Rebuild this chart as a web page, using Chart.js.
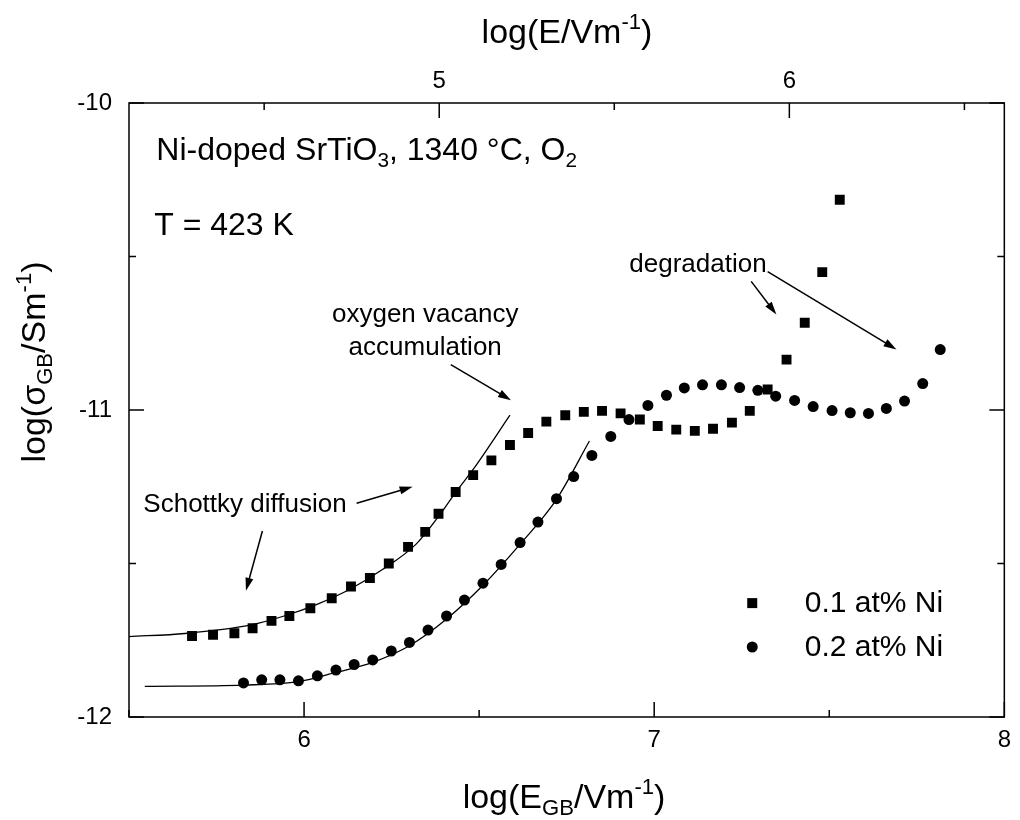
<!DOCTYPE html>
<html>
<head>
<meta charset="utf-8">
<script src="https://cdn.jsdelivr.net/npm/chart.js@4.4.1/dist/chart.umd.min.js"></script>
<style>
html, body { margin: 0; padding: 0; background: #fff; }
</style>
</head>
<body>
<canvas id="plot" width="1020" height="820"></canvas>
<script>
// 0.1 at% Ni (squares)
const sq01X = [5.680, 5.740, 5.801, 5.853, 5.907, 5.958, 6.018, 6.079, 6.134, 6.188, 6.242, 6.297,
  6.346, 6.384, 6.433, 6.483, 6.535, 6.588, 6.640, 6.692, 6.746, 6.799, 6.851, 6.904,
  6.959, 7.010, 7.063, 7.116, 7.168, 7.222, 7.273, 7.324, 7.378, 7.430, 7.480, 7.530];
const sq01Y = [-11.736, -11.732, -11.727, -11.711, -11.687, -11.671, -11.646, -11.613, -11.575, -11.547, -11.500, -11.446,
  -11.397, -11.338, -11.267, -11.212, -11.164, -11.114, -11.075, -11.038, -11.017, -11.006, -11.003, -11.011,
  -11.031, -11.052, -11.064, -11.068, -11.061, -11.041, -11.003, -10.933, -10.836, -10.716, -10.551, -10.315];

// 0.2 at% Ni (circles)
const ci02X = [5.827, 5.879, 5.931, 5.984, 6.038, 6.091, 6.143, 6.196, 6.249, 6.301, 6.354, 6.407, 6.458,
  6.511, 6.563, 6.617, 6.668, 6.721, 6.770, 6.822, 6.876, 6.928, 6.982, 7.035, 7.086, 7.138,
  7.192, 7.244, 7.296, 7.347, 7.401, 7.454, 7.508, 7.560, 7.612, 7.663, 7.715, 7.767, 7.817];
const ci02Y = [-11.889, -11.879, -11.879, -11.882, -11.866, -11.847, -11.829, -11.814, -11.785, -11.757, -11.717, -11.671, -11.619,
  -11.564, -11.503, -11.432, -11.365, -11.289, -11.217, -11.148, -11.086, -11.031, -10.985, -10.952, -10.928, -10.918,
  -10.918, -10.927, -10.936, -10.955, -10.969, -10.989, -11.002, -11.009, -11.011, -10.995, -10.971, -10.914, -10.803];

// fitted curves
const fit01X = [5.5, 5.660, 5.848, 5.943, 6.037, 6.131, 6.225, 6.320, 6.382, 6.433, 6.484, 6.588];
const fit01Y = [-11.738, -11.728, -11.700, -11.671, -11.633, -11.584, -11.519, -11.437, -11.350, -11.268, -11.192, -11.017];
const fit02X = [5.545, 5.827, 5.984, 6.091, 6.196, 6.301, 6.407, 6.511, 6.617, 6.721, 6.815];
const fit02Y = [-11.900, -11.896, -11.885, -11.855, -11.822, -11.768, -11.681, -11.571, -11.437, -11.291, -11.101];

const seriesLabels = ['0.1 at% Ni', '0.2 at% Ni'];

// axes
const xMin = 5.5, xMax = 8;
const xTopMin = 4.114, xTopMax = 6.614;
const yMin = -12, yMax = -10;
const xTicks = [5.5, 6, 6.5, 7, 7.5, 8];
const xTopTicks = [4.5, 5, 5.5, 6, 6.5];
const yTicks = [-12, -11.5, -11, -10.5, -10];

// annotations (data coordinates)
const notes = [
  { text: 'Schottky diffusion', x: 5.541, y: -11.331, align: 'left', size: 26 },
  { text: 'oxygen vacancy', x: 6.346, y: -10.712, align: 'center', size: 26 },
  { text: 'accumulation', x: 6.346, y: -10.821, align: 'center', size: 26 },
  { text: 'degradation', x: 6.929, y: -10.549, align: 'left', size: 26 },
  { text: 'T = 423 K', x: 5.572, y: -10.430, align: 'left', size: 32 }
];
const arrows = [
  [6.150, -11.304, 6.310, -11.250],
  [5.881, -11.394, 5.834, -11.589],
  [6.419, -10.852, 6.591, -10.968],
  [7.277, -10.581, 7.349, -10.689],
  [7.324, -10.549, 7.692, -10.803]
];

const FONT = "'Liberation Sans', Arial, Helvetica, sans-serif";

function drawRich(ctx, parts, x, y, size, align) {
  const fs = p => (p.s ? size * 0.65 : size);
  let w = 0;
  parts.forEach(p => { ctx.font = fs(p) + 'px ' + FONT; w += ctx.measureText(p.t).width; });
  let cx = align === 'center' ? x - w / 2 : x;
  ctx.textAlign = 'left';
  ctx.textBaseline = 'alphabetic';
  parts.forEach(p => {
    ctx.font = fs(p) + 'px ' + FONT;
    const dy = p.s === -1 ? size * 0.22 : (p.s === 1 ? -size * 0.42 : 0);
    ctx.fillText(p.t, cx, y + dy);
    cx += ctx.measureText(p.t).width;
  });
}

function arrow(ctx, x1, y1, x2, y2) {
  const ang = Math.atan2(y2 - y1, x2 - x1);
  const L = 13, H = 4;
  ctx.beginPath();
  ctx.moveTo(x1, y1);
  ctx.lineTo(x2 - L * 0.8 * Math.cos(ang), y2 - L * 0.8 * Math.sin(ang));
  ctx.stroke();
  ctx.beginPath();
  ctx.moveTo(x2, y2);
  ctx.lineTo(x2 - L * Math.cos(ang) + H * Math.sin(ang), y2 - L * Math.sin(ang) - H * Math.cos(ang));
  ctx.lineTo(x2 - L * Math.cos(ang) - H * Math.sin(ang), y2 - L * Math.sin(ang) + H * Math.cos(ang));
  ctx.closePath();
  ctx.fill();
}

const paperPlugin = {
  id: 'paper',
  afterDraw(chart) {
    const { ctx, chartArea: a, scales } = chart;
    const xs = scales.x, xt = scales.x2, ys = scales.y;
    ctx.save();
    ctx.strokeStyle = '#000';
    ctx.fillStyle = '#000';
    ctx.lineWidth = 1.5;
    ctx.strokeRect(a.left, a.top, a.right - a.left, a.bottom - a.top);

    // inward ticks
    const len = v => (Number.isInteger(v) ? 15 : 7);
    ctx.beginPath();
    xTicks.forEach(v => {
      const p = xs.getPixelForValue(v);
      ctx.moveTo(p, a.bottom); ctx.lineTo(p, a.bottom - len(v));
    });
    xTopTicks.forEach(v => {
      const p = xt.getPixelForValue(v);
      ctx.moveTo(p, a.top); ctx.lineTo(p, a.top + len(v));
    });
    yTicks.forEach(v => {
      const p = ys.getPixelForValue(v);
      ctx.moveTo(a.left, p); ctx.lineTo(a.left + len(v), p);
      ctx.moveTo(a.right, p); ctx.lineTo(a.right - len(v), p);
    });
    ctx.stroke();

    // axis titles
    drawRich(ctx, [{ t: 'log(E/Vm' }, { t: '-1', s: 1 }, { t: ')' }], 567, 43, 34, 'center');
    drawRich(ctx, [{ t: 'log(E' }, { t: 'GB', s: -1 }, { t: '/Vm' }, { t: '-1', s: 1 }, { t: ')' }], 564, 808, 34, 'center');
    ctx.save();
    ctx.translate(45, 362);
    ctx.rotate(-Math.PI / 2);
    drawRich(ctx, [{ t: 'log(σ' }, { t: 'GB', s: -1 }, { t: '/Sm' }, { t: '-1', s: 1 }, { t: ')' }], 0, 0, 34, 'center');
    ctx.restore();

    // sample label
    drawRich(ctx, [{ t: 'Ni-doped SrTiO' }, { t: '3', s: -1 }, { t: ', 1340 °C, O' }, { t: '2', s: -1 }],
      xs.getPixelForValue(5.578), ys.getPixelForValue(-10.186), 32, 'left');

    notes.forEach(n => {
      drawRich(ctx, [{ t: n.text }], xs.getPixelForValue(n.x), ys.getPixelForValue(n.y), n.size, n.align);
    });

    ctx.lineWidth = 1.5;
    arrows.forEach(r => {
      arrow(ctx, xs.getPixelForValue(r[0]), ys.getPixelForValue(r[1]), xs.getPixelForValue(r[2]), ys.getPixelForValue(r[3]));
    });

    // legend
    const lx = xs.getPixelForValue(7.28), tx = xs.getPixelForValue(7.43);
    const ly1 = ys.getPixelForValue(-11.629), ly2 = ys.getPixelForValue(-11.772);
    ctx.fillRect(lx - 5, ly1 - 5, 10, 10);
    ctx.beginPath(); ctx.arc(lx, ly2, 5.5, 0, Math.PI * 2); ctx.fill();
    ctx.font = '30px ' + FONT;
    ctx.textAlign = 'left';
    ctx.textBaseline = 'middle';
    ctx.fillText(seriesLabels[0], tx, ly1 + 1);
    ctx.fillText(seriesLabels[1], tx, ly2 + 1);
    ctx.restore();
  }
};

const tickFont = { family: FONT, size: 24 };
const intLabel = v => (Number.isInteger(v) ? String(v) : '');
const fixedTicks = list => s => { s.ticks = list.map(v => ({ value: v })); };

new Chart(document.getElementById('plot'), {
  type: 'scatter',
  data: {
    datasets: [
      {
        label: seriesLabels[0],
        data: sq01X.map((x, i) => ({ x: x, y: sq01Y[i] })),
        pointStyle: 'rect', pointRadius: 7, borderWidth: 0,
        backgroundColor: '#000', borderColor: '#000', showLine: false
      },
      {
        label: seriesLabels[1],
        data: ci02X.map((x, i) => ({ x: x, y: ci02Y[i] })),
        pointStyle: 'circle', pointRadius: 5.5, borderWidth: 0,
        backgroundColor: '#000', borderColor: '#000', showLine: false
      },
      {
        label: 'fit 0.1',
        data: fit01X.map((x, i) => ({ x: x, y: fit01Y[i] })),
        showLine: true, pointRadius: 0, borderColor: '#000', borderWidth: 1.3,
        cubicInterpolationMode: 'monotone', fill: false
      },
      {
        label: 'fit 0.2',
        data: fit02X.map((x, i) => ({ x: x, y: fit02Y[i] })),
        showLine: true, pointRadius: 0, borderColor: '#000', borderWidth: 1.3,
        cubicInterpolationMode: 'monotone', fill: false
      }
    ]
  },
  options: {
    responsive: false,
    animation: false,
    layout: { padding: { left: 0, right: 8, top: 0, bottom: 0 } },
    plugins: { legend: { display: false }, tooltip: { enabled: false } },
    scales: {
      x: {
        type: 'linear', position: 'bottom', min: xMin, max: xMax,
        afterBuildTicks: fixedTicks(xTicks),
        ticks: { autoSkip: false, maxRotation: 0, callback: intLabel, font: tickFont, color: '#000', padding: 9 },
        grid: { display: false, drawTicks: false }, border: { display: false },
        afterFit: s => { s.height = 103; }
      },
      x2: {
        type: 'linear', position: 'top', min: xTopMin, max: xTopMax,
        afterBuildTicks: fixedTicks(xTopTicks),
        ticks: { autoSkip: false, maxRotation: 0, callback: intLabel, font: tickFont, color: '#000', padding: 7 },
        grid: { display: false, drawTicks: false }, border: { display: false },
        afterFit: s => { s.height = 103; }
      },
      y: {
        type: 'linear', position: 'left', min: yMin, max: yMax,
        afterBuildTicks: fixedTicks(yTicks),
        ticks: { autoSkip: false, callback: intLabel, font: tickFont, color: '#000', padding: 17 },
        grid: { display: false, drawTicks: false }, border: { display: false },
        afterFit: s => { s.width = 129; }
      }
    }
  },
  plugins: [paperPlugin]
});
</script>
</body>
</html>
